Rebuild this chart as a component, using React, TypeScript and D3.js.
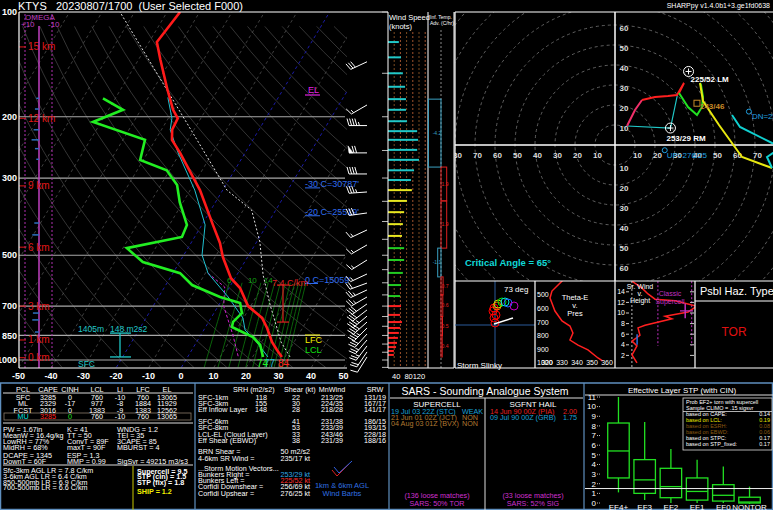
import React from "react";
import * as d3 from "d3";

// ---------------- TEXT ----------------
const TITLE = "KTYS   20230807/1700  (User Selected F000)";
const VERSION = "SHARPpy v1.4.0b1+3.ge1fd0638";

// ---------------- SOUNDING (hPa, degC) ----------------
const tempP = [980, 936, 888, 809, 757, 700, 621, 582, 506, 461, 409, 325, 254, 233, 218, 202, 191, 167, 137, 122, 100];
const tempC = [29.0, 26.2, 23.2, 19.1, 15.7, 9.2, 3.4, -1.2, -7.6, -11.1, -16.6, -27.0, -40.0, -44.9, -46.7, -47.1, -50.1, -55.6, -63.3, -67.6, -66.0];
const dwptP = [980, 905, 859, 804, 777, 733, 686, 659, 609, 563, 523, 477, 443, 409, 352, 314, 285, 266, 233, 207, 191, 177];
const dwptC = [23.2, 20.1, 16.4, 8.1, 7.5, 8.6, 6.2, -1.1, -11.9, -17.8, -31.3, -38.8, -23.9, -24.6, -31.0, -35.0, -40.9, -51.0, -53.2, -72.5, -65.5, -73.8];
const wetbP = [980, 876, 820, 757, 659, 563, 499, 409, 325, 254, 218, 202, 176];
const wetbC = [24.7, 17.6, 12.7, 9.8, 1.4, -9.2, -14.4, -19.0, -28.6, -40.6, -47.3, -48.9, -54.0];
const parcelP = [980, 888, 793, 695, 570, 458, 371, 325, 233, 100];
const parcelC = [31.5, 26.0, 21.3, 15.8, 8.1, 1.0, -7.4, -18.7, -37.2, -84.5];
const downP = [563, 617, 700, 848, 980];
const downC = [-9.2, -1.5, 1.7, 9.9, 15.6];

const presLabels = [100, 200, 300, 500, 700, 850, 1000];
const tempAxis = [-50, -40, -30, -20, -10, 0, 10, 20, 30, 40, 50];
const kmLabels = [0, 1, 3, 6, 9, 12, 15];
const kmPres = [985, 876, 700, 474, 316, 202, 126];
const mixW = [6, 8, 10, 12, 14, 16, 18, 20, 22, 24, 26, 28, 30];
const mixLabels = [6, 10, 14];
const omegaP = [177, 190, 218, 233, 247, 265, 404, 437, 733, 767, 831];
const omegaV = [2, 3, 4, 5.5, 3, 2, 3.5, 5, 4.5, 5, 3];

// wind profile (speed panel)
const windP = [967, 942, 918, 893, 864, 836, 809, 778, 742, 700, 655, 609, 562, 516, 477, 440, 407, 376, 349, 325, 304, 285, 266, 249, 233, 220, 206, 191, 178, 164, 150, 135, 122];
const windSpd = [19, 19, 26, 29, 32, 35, 39, 45, 39, 42, 39, 42, 48, 52, 52, 45, 48, 52, 61, 77, 74, 84, 100, 94, 97, 94, 61, 58, 58, 55, 48, 42, 35];
// wind barbs
const barbP = [139, 185, 212, 254, 292, 329, 378, 423, 467, 516, 566, 601, 629, 659, 690, 718, 748, 778, 809, 842, 876, 911, 948, 980];
const barbDir = [245, 240, 270, 270, 270, 266, 262, 245, 240, 238, 245, 250, 245, 240, 235, 232, 230, 228, 225, 222, 220, 217, 214, 212];
const barbSpd = [30, 15, 45, 70, 40, 35, 30, 15, 15, 15, 15, 20, 25, 25, 30, 30, 35, 40, 35, 30, 25, 25, 20, 10];

// inferred temperature advection (C/hr)
const advTop = [178, 279, 349, 477, 577, 650, 750, 850];
const advBot = [279, 349, 477, 577, 650, 750, 850, 980];
const advVal = [-4.2, 1.9, 1.9, -1.1, 0.7, 0.6, 0.5, 0.4];

// ---------------- HODOGRAPH ----------------
const hodoH = [0, 0.5, 1, 1.5, 2, 2.5, 2.75, 3, 3.5, 4, 4.5, 5, 5.5, 6, 6.5, 7.2, 7.8, 8.2, 9, 9.3, 9.8, 10.3, 10.8, 11.2, 11.6, 12];
const hodoU = [6, 10, 13.5, 20, 26.5, 31, 34.5, 32, 36.5, 41, 43.5, 44, 43, 42.5, 44, 52, 61, 63.5, 78.5, 76, 85, 92, 86, 78.5, 62.5, 58.5];
const hodoV = [9.5, 17.5, 22.5, 24, 24.5, 25, 31, 26, 19, 15, 19, 24, 30, 31, 22, 10, -2.5, -6, -11.5, -6, 0, 2, -1, 1, 9, 15];
const hodoBands = [0, 1, 3, 6, 9, 12];
const hodoColors = ["#f0306a", "#ff2020", "#22e022", "#e8e810", "#10d0d0"];
const hodoRings = d3.range(10, 130, 10);
const eilTop = { u: 31.3, v: 25.5 };
const motionNames = ["RM", "LM", "MW", "DN", "UP"];
const motionDir = [253, 225, 243, 256, 276];
const motionSpd = [29, 52, 46, 69, 25];

// storm slinky
const slU = [-0.5, -1, -0.5, 0, 0.5, 1, 1.5, 3.5, 5, 6.5, 9.5];
const slV = [8.5, 7, 3.5, 1, 5, 9.5, 10.5, 11.5, 11.5, 11, 9.5];
const slC = ["#ff0000", "#ff0000", "#ff0000", "#ff0000", "#ff0000", "#ff6000", "#c0e000", "#00e000", "#00e0e0", "#2060ff", "#c000c0"];

// theta-e
const teP = [390, 471, 522, 618, 691, 728, 779, 831, 868, 904, 963, 985];
const teV = [330.7, 323.3, 322, 325.3, 330, 335.3, 337.3, 335.3, 340.7, 347.3, 354, 357];
// SR wind vs height
const srH = [0.6, 2.1, 3.8, 4.7, 5.8, 7.2, 7.7, 8.9, 9.4, 10.2, 11.3, 12.3, 12.6, 13.6, 14.7, 16];
const srS = [16.9, 13.1, 16.9, 13.1, 19.2, 17.7, 23.1, 43.8, 38.5, 56.2, 63, 46.2, 30.8, 25.4, 20.8, 13.1];

// ---------------- TABLES ----------------
const pclHead = ["PCL", "CAPE", "CINH", "LCL", "LI", "LFC", "EL"];
const pclRows = [
  ["SFC", "3285", "0", "760", "-10", "760", "13065"],
  ["ML", "2329", "-17", "977", "-8", "1884", "11929"],
  ["FCST", "3016", "0", "1383", "-9", "1383", "12562"],
  ["MU", "3285", "0", "760", "-10", "760", "13065"],
];
const paramRows = [
  ["PW = 1.67in", "K = 41", "WNDG = 1.2"],
  ["MeanW = 16.4g/kg", "TT = 50", "TEI = 35"],
  ["LowRH = 77%", "ConvT = 89F", "3CAPE = 85"],
  ["MidRH = 68%", "maxT = 90F", "MBURST = 4"],
  ["DCAPE = 1345", "ESP = 1.3", ""],
  ["DownT = 60F", "MMP = 0.99", "SigSvr = 49215 m3/s3"],
];
const lapseRows = ["Sfc-3km AGL LR = 7.8 C/km", "3-6km AGL LR = 6.4 C/km", "850-500mb LR = 6.9 C/km", "700-500mb LR = 6.6 C/km"];
const indexRows = ["Supercell = 9.5", "STP (cin) = 1.5", "STP (fix) = 1.8", "SHIP = 1.2"];
const kinA = [
  ["SFC-1km", "118", "22", "213/25", "131/19"],
  ["SFC-3km", "155", "30", "224/35", "167/17"],
  ["Eff Inflow Layer", "148", "28", "218/28", "141/17"],
];
const kinB = [
  ["SFC-6km", "", "41", "231/38", "186/15"],
  ["SFC-8km", "", "53", "233/39", "193/15"],
  ["LCL-EL (Cloud Layer)", "", "33", "243/46", "228/18"],
  ["Eff Shear (EBWD)", "", "38", "231/39", "188/16"],
];
const sarsSup = ["19 Jul 03 22Z (STC)", "21 Jun 01 02Z (JCT)", "04 Aug 03 01Z (BVX)"];
const sarsSupCat = ["WEAK", "NON", "NON"];
const sarsSupCol = ["#1aa0d8", "#b07830", "#b07830"];
const sarsHail = ["14 Jun 90 00Z (PIA)", "09 Jul 90 00Z (GRB)"];
const sarsHailSize = ["2.00", "1.75"];
const sarsHailCol = ["#e82020", "#1aa0d8"];
const stpCats = ["EF4+", "EF3", "EF2", "EF1", "EF0", "NONTOR"];
const stpLo = [1.1, 0.3, 0.0, 0.0, 0.0, -0.1];
const stpQ1 = [2.6, 1.0, 0.55, 0.3, 0.2, 0.0];
const stpMed = [5.4, 2.4, 1.7, 1.2, 0.8, 0.1];
const stpQ3 = [8.3, 4.5, 3.6, 2.6, 1.9, 0.6];
const stpHi = [11.0, 8.4, 5.6, 4.5, 3.8, 1.7];
const stpNow = 1.5;
const legLabels = ["based on CAPE:", "based on LCL:", "based on ESRH:", "based on EBWD:", "based on STPC:", "based on STP_fixed:"];
const legVals = ["0.14", "0.19", "0.08", "0.06", "0.17", "0.17"];
const legCols = ["#ffffff", "#e8e800", "#8b5a10", "#8b5a10", "#ffffff", "#ffffff"];

// ---------------- SCALES ----------------
const SK = { left: 19, right: 347, top: 12, bottom: 368 };
const yP = d3.scaleLog().domain([1000, 100]).range([360, 12]);
const xT = d3.scaleLinear().domain([-50, 50]).range([18.5, 343.5]);
const SKEW = 0.6;
const sx = (t: number, p: number) => xT(t) + SKEW * (SK.bottom - yP(p));
const profPath = (P: number[], T: number[]) =>
  d3.line<number>().x((i) => sx(T[i], P[i])).y((i) => yP(P[i]))(d3.range(P.length)) || "";
const tdFromW = (w: number, p: number) => {
  const e = (w * p) / (622 + w);
  const l = Math.log(e / 6.112);
  return (243.5 * l) / (17.67 - l);
};
const xW = d3.scaleLinear().domain([0, 120]).range([388, 425.2]);
const xAdv = d3.scaleLinear().domain([0, 1]).range([441, 444]);
const hu = d3.scaleLinear().domain([0, 10]).range([615, 635]);
const hv = d3.scaleLinear().domain([0, 10]).range([145, 125]);
const slX = d3.scaleLinear().domain([0, 10]).range([495, 515]);
const slY = d3.scaleLinear().domain([0, 10]).range([325, 305]);
const teX = d3.scaleLinear().domain([320, 360]).range([547, 607]);
const teY = d3.scaleLinear().domain([500, 1000]).range([295, 363]);
const srX = d3.scaleLinear().domain([0, 60]).range([615, 693]);
const srY = d3.scaleLinear().domain([0, 16]).range([366, 281.2]);
const stpX = d3.scaleBand().domain(stpCats).range([603, 765]).padding(0.18);
const stpY = d3.scaleLinear().domain([0, 11]).range([503, 397]);

const bandColor = (p: number) => (p >= kmPres[2] ? "#ff2020" : p >= kmPres[3] ? "#22cc22" : p >= kmPres[4] ? "#e8e820" : "#20c8c8");
const uv = (dir: number, spd: number) => {
  const r = (dir * Math.PI) / 180;
  return { u: -spd * Math.sin(r), v: -spd * Math.cos(r) };
};

function barb(x0: number, y0: number, dir: number, spd: number, key: number) {
  const r = (dir * Math.PI) / 180;
  const ax = Math.sin(r), ay = -Math.cos(r);
  const px = -ay, py = ax;
  const L = 18;
  const tx = x0 + ax * L, ty = y0 + ay * L;
  let s = Math.round(spd / 5) * 5;
  let pos = 0;
  const parts: string[] = [`M${x0},${y0}L${tx},${ty}`];
  const flags: string[] = [];
  while (s >= 50) {
    const bx = tx - ax * pos, by = ty - ay * pos;
    flags.push(`M${bx},${by}L${bx + px * 7 + ax * 1},${by + py * 7 + ay * 1}L${bx - ax * 4},${by - ay * 4}Z`);
    pos += 5;
    s -= 50;
  }
  while (s >= 10) {
    const bx = tx - ax * pos, by = ty - ay * pos;
    parts.push(`M${bx},${by}L${bx + px * 7 + ax * 2},${by + py * 7 + ay * 2}`);
    pos += 2.6;
    s -= 10;
  }
  if (s >= 5) {
    if (pos === 0) pos = 2.6;
    const bx = tx - ax * pos, by = ty - ay * pos;
    parts.push(`M${bx},${by}L${bx + px * 3.5 + ax * 1},${by + py * 3.5 + ay * 1}`);
  }
  return (
    <g key={key}>
      <path d={parts.join("")} stroke="#fff" strokeWidth={1} fill="none" />
      {flags.length > 0 && <path d={flags.join("")} fill="#fff" stroke="#fff" strokeWidth={0.6} />}
    </g>
  );
}

const F = "'Liberation Sans', Arial, sans-serif";

const Txt = (props: any) => {
  const { x, y, c = "#fff", s = 7.2, a = "start", w = "normal", children, ...rest } = props;
  return (
    <text x={x} y={y} fill={c} fontSize={s} textAnchor={a} fontWeight={w} dy="0.35em" style={{ whiteSpace: "pre" }} {...rest}>
      {children}
    </text>
  );
};

export default function App() {
  // skew-T background lines
  const isoT = d3.range(-160, 60, 10);
  const dryTh = d3.range(-40, 240, 10);
  const pLev = d3.range(1050, 99, -20);
  const dryPath = (th: number) =>
    d3.line<number>().x((p) => sx((th + 273.15) * Math.pow(p / 1000, 0.2857) - 273.15, p)).y((p) => yP(p))(pLev) || "";
  const mixLev = d3.range(1050, 599, -25);
  const mixPath = (w: number) => d3.line<number>().x((p) => sx(tdFromW(w, p), p)).y((p) => yP(p))(mixLev) || "";

  // hodograph segments
  const hodoSegs = hodoColors.map((col, b) => {
    const lo = hodoBands[b], hi = hodoBands[b + 1];
    const idx = d3.range(hodoH.length).filter((i) => hodoH[i] >= lo && hodoH[i] <= hi);
    const d = d3.line<number>().x((i) => hu(hodoU[i])).y((i) => hv(hodoV[i]))(idx) || "";
    return <path key={b} d={d} stroke={col} strokeWidth={2} fill="none" />;
  });
  const mo = motionNames.map((n, i) => ({ n, ...uv(motionDir[i], motionSpd[i]), dir: motionDir[i], spd: motionSpd[i] }));
  const rm = mo[0], lm = mo[1], mw = mo[2], dn = mo[3], up = mo[4];

  const wallColor = "#5f8fbf";

  return (
    <svg width={773} height={510} style={{ position: "fixed", left: 0, top: 0, background: "#000" }} fontFamily={F}>
      <defs>
        <clipPath id="skc"><rect x={SK.left} y={SK.top} width={SK.right - SK.left} height={SK.bottom - SK.top} /></clipPath>
        <clipPath id="hodc"><rect x={455} y={12} width={318} height={269} /></clipPath>
        <clipPath id="tec"><rect x={535} y={281} width={80} height={87} /></clipPath>
        <clipPath id="src"><rect x={615} y={281} width={80} height={87} /></clipPath>
      </defs>
      <rect x={0} y={0} width={773} height={510} fill="#000" />

      {/* ============ SKEW-T ============ */}
      <g clipPath="url(#skc)">
        {dryTh.map((th) => (
          <path key={"d" + th} d={dryPath(th)} stroke="#4a4a4a" strokeWidth={0.7} fill="none" />
        ))}
        {isoT.map((t) => (
          <path key={"i" + t} d={`M${sx(t, 1050)},${yP(1050)}L${sx(t, 100)},${yP(100)}`}
            stroke={t === 0 || t === -20 ? "#1c1ca8" : "#5a5a5a"} strokeWidth={t === 0 || t === -20 ? 1 : 0.7}
            strokeDasharray="3,3" fill="none" />
        ))}
        {mixW.map((w) => (
          <path key={"m" + w} d={mixPath(w)} stroke="#0c7a0c" strokeWidth={0.8} fill="none" />
        ))}
        {presLabels.filter((p) => p !== 100).map((p) => (
          <line key={"pl" + p} x1={SK.left} x2={345} y1={yP(p)} y2={yP(p)} stroke="#a8a8a8" strokeWidth={1.2} />
        ))}
      </g>
      {mixLabels.map((w) => (
        <Txt key={"ml" + w} x={sx(tdFromW(w, 600), 600)} y={yP(600) - 3} c="#11a011" s={8} a="middle">{w}</Txt>
      ))}

      {/* omega */}
      <line x1={25} x2={25} y1={14} y2={SK.bottom} stroke="#b030b0" strokeDasharray="2,2" />
      <line x1={52} x2={52} y1={14} y2={SK.bottom} stroke="#b030b0" strokeDasharray="2,2" />
      <line x1={39} x2={39} y1={26} y2={SK.bottom} stroke="#c040c0" strokeWidth={1.5} />
      {omegaP.map((p, i) => (
        <line key={"o" + i} x1={39} x2={39 - omegaV[i] * 1.35} y1={yP(p)} y2={yP(p)} stroke="#3070c0" strokeWidth={1.5} />
      ))}
      <Txt x={25} y={17} c="#c040c0" s={8}>OMEGA</Txt>
      <Txt x={21} y={24} c="#c040c0" s={8}>+10</Txt>
      <Txt x={48} y={24} c="#c040c0" s={8}>-10</Txt>

      {/* km labels */}
      {kmLabels.map((k, i) => (
        <g key={"km" + k}>
          <line x1={SK.left} x2={26} y1={yP(kmPres[i])} y2={yP(kmPres[i])} stroke="#e01818" strokeWidth={1} />
          <Txt x={28} y={yP(kmPres[i])} c="#e01818" s={10}>{k + " km"}</Txt>
        </g>
      ))}

      {/* profiles */}
      <g clipPath="url(#skc)" fill="none">
        <path d={profPath(downP, downC)} stroke="#d020d0" strokeWidth={1} strokeDasharray="3,2" />
        <path d={profPath(parcelP, parcelC)} stroke="#e0e0e0" strokeWidth={1} strokeDasharray="2,2" />
        <path d={profPath(wetbP, wetbC)} stroke="#20c0d0" strokeWidth={1} />
        <path d={profPath(dwptP, dwptC)} stroke="#22ee22" strokeWidth={2.6} />
        <path d={profPath(tempP, tempC)} stroke="#ff1a1a" strokeWidth={2.6} />
      </g>

      {/* level annotations */}
      <Txt x={305} y={yP(316) - 2} c="#2f6cf0" s={9}>-30 C=30787'</Txt>
      <Txt x={305} y={yP(375)} c="#2f6cf0" s={9}>-20 C=25519'</Txt>
      <Txt x={305} y={yP(587)} c="#2f6cf0" s={9}>0 C=15059'</Txt>
      <line x1={305} x2={320} y1={yP(316) + 2} y2={yP(316) + 2} stroke="#2f6cf0" />
      <line x1={305} x2={320} y1={yP(375) + 4} y2={yP(375) + 4} stroke="#2f6cf0" />
      <line x1={305} x2={318} y1={yP(587) + 4} y2={yP(587) + 4} stroke="#2f6cf0" />
      <Txt x={308} y={90} c="#e020e0" s={9}>EL</Txt>
      <line x1={305} x2={320} y1={95} y2={95} stroke="#e020e0" strokeWidth={1.2} />
      <line x1={305} x2={320} y1={335} y2={335} stroke="#f0f000" strokeWidth={1} />
      <Txt x={305} y={340} c="#f0f000" s={9}>LFC</Txt>
      <Txt x={305} y={350} c="#10e010" s={9}>LCL</Txt>
      {/* lapse rate bracket */}
      <g stroke="#e02020" strokeWidth={1.2}>
        <line x1={283} x2={283} y1={yP(609)} y2={yP(778)} />
        <line x1={277} x2={289} y1={yP(609)} y2={yP(609)} />
        <line x1={277} x2={289} y1={yP(778)} y2={yP(778)} />
      </g>
      <Txt x={272} y={283} c="#e02020" s={9}>7.4 C/km</Txt>
      {/* effective inflow layer */}
      <g stroke="#20c8c8" strokeWidth={1.3}>
        <line x1={120} x2={120} y1={yP(837)} y2={yP(980)} />
        <line x1={110} x2={131} y1={yP(837)} y2={yP(837)} />
        <line x1={110} x2={131} y1={yP(980)} y2={yP(980)} />
      </g>
      <Txt x={78} y={329} c="#20c8c8" s={8.5}>1405m</Txt>
      <Txt x={110} y={329} c="#20c8c8" s={8.5}>148 m2s2</Txt>
      <Txt x={78} y={364} c="#20c8c8" s={8.5}>SFC</Txt>
      {/* surface values */}
      <Txt x={264} y={363} c="#20c0d0" s={10}>77</Txt>
      <Txt x={257} y={363} c="#22ee22" s={10}>74</Txt>
      <Txt x={278} y={363} c="#ff2020" s={10}>84</Txt>

      {/* wind barbs */}
      {barbP.map((p, i) => barb(367, yP(p), barbDir[i], barbSpd[i], i))}

      {/* frame */}
      <line x1={SK.left} x2={SK.left} y1={SK.top} y2={SK.bottom} stroke="#fff" strokeWidth={1.2} />
      <line x1={SK.left} x2={388} y1={SK.top} y2={SK.top} stroke="#fff" strokeWidth={1.2} />
      <line x1={SK.left} x2={SK.right} y1={SK.bottom} y2={SK.bottom} stroke="#fff" strokeWidth={1.2} />
      {presLabels.map((p) => (
        <Txt key={"pt" + p} x={17} y={yP(p)} a="end" s={9} w="bold">{p}</Txt>
      ))}
      {tempAxis.map((t) => (
        <Txt key={"ta" + t} x={xT(t)} y={376} a="middle" s={9} w="bold">{t}</Txt>
      ))}
      <Txt x={18} y={6} s={11}>{TITLE}</Txt>
      <Txt x={770} y={6} s={7} a="end">{VERSION}</Txt>
      {d3.range(100, 1051, 50).map((p) => (
        <line key={"rt" + p} x1={382} x2={388} y1={yP(p)} y2={yP(p)} stroke="#bbb" />
      ))}

      {/* ============ WIND SPEED PANEL ============ */}
      {d3.range(20, 121, 20).map((k) => (
        <line key={"wg" + k} x1={xW(k)} x2={xW(k)} y1={32} y2={SK.bottom} stroke={k % 40 === 0 ? "#a0522d" : "#7a4a20"} strokeDasharray="2,2" />
      ))}
      {windP.map((p, i) => (
        <line key={"wb" + i} x1={xW(0)} x2={xW(windSpd[i])} y1={yP(p)} y2={yP(p)} stroke={bandColor(p)} strokeWidth={2} />
      ))}
      <line x1={388} x2={388} y1={12} y2={SK.bottom} stroke="#fff" />
      <line x1={428} x2={428} y1={12} y2={SK.bottom} stroke="#fff" />
      <line x1={388} x2={428} y1={SK.bottom} y2={SK.bottom} stroke="#fff" />
      <Txt x={389} y={17} s={7.5}>Wind Speed</Txt>
      <Txt x={389} y={26} s={7.5}>(knots)</Txt>
      {[40, 80, 120].map((k) => (
        <Txt key={"wl" + k} x={xW(k)} y={376} a="end" s={7.5}>{k}</Txt>
      ))}

      {/* ============ TEMP ADVECTION ============ */}
      <line x1={441} x2={441} y1={30} y2={SK.bottom} stroke="#888" strokeDasharray="2,2" />
      {advVal.map((v, i) => {
        const x0 = xAdv(0), x1 = xAdv(v);
        const col = v < 0 ? "#3aa0c0" : "#e02020";
        return (
          <g key={"adv" + i}>
            <rect x={Math.min(x0, x1)} y={yP(advTop[i])} width={Math.abs(x1 - x0)} height={yP(advBot[i]) - yP(advTop[i])} fill="none" stroke={col} strokeWidth={1} />
            <Txt x={v < 0 ? 437 : 445} y={(yP(advTop[i]) + yP(advBot[i])) / 2} c={col} s={5} a="middle">{v.toFixed(1)}</Txt>
          </g>
        );
      })}
      <line x1={454} x2={454} y1={12} y2={SK.bottom} stroke="#fff" />
      <line x1={428} x2={454} y1={SK.bottom} y2={SK.bottom} stroke="#fff" />
      <Txt x={430} y={17} s={5}>Inf. Temp.</Txt>
      <Txt x={430} y={23} s={5}>Adv. (C/hr)</Txt>

      {/* ============ HODOGRAPH ============ */}
      <g clipPath="url(#hodc)">
        {hodoRings.map((r) => (
          <circle key={"r" + r} cx={hu(0)} cy={hv(0)} r={hu(r) - hu(0)} fill="none" stroke="#777" strokeWidth={0.8} strokeDasharray="3,3" />
        ))}
        <line x1={hu(0)} x2={hu(0)} y1={12} y2={281} stroke="#fff" strokeWidth={1.5} />
        <line x1={455} x2={773} y1={hv(0)} y2={hv(0)} stroke="#fff" strokeWidth={1.5} />
        {hodoRings.filter((r) => r <= 60).map((r) => (
          <g key={"hl" + r}>
            <Txt x={624} y={hv(r) + 3} a="middle" s={8} w="bold" c="#ddd">{r}</Txt>
            <Txt x={624} y={hv(-r) + 3} a="middle" s={8} w="bold" c="#ddd">{r}</Txt>
          </g>
        ))}
        {hodoRings.filter((r) => r <= 80).map((r) => (
          <g key={"hh" + r}>
            <Txt x={hu(r) + 2.5} y={155} a="middle" s={8} w="bold" c="#ddd">{r}</Txt>
            <Txt x={hu(-r) + 2.5} y={155} a="middle" s={8} w="bold" c="#ddd">{r}</Txt>
          </g>
        ))}
        {/* effective inflow lines */}
        <path d={`M${hu(hodoU[0])},${hv(hodoV[0])}L${hu(rm.u)},${hv(rm.v)}L${hu(eilTop.u)},${hv(eilTop.v)}`} stroke="#20c8c8" strokeWidth={1.2} fill="none" />
        {hodoSegs}
        {/* markers */}
        {[rm, lm].map((m, i) => (
          <g key={"sm" + i} stroke="#fff" fill="none">
            <circle cx={hu(m.u)} cy={hv(m.v)} r={5} />
            <line x1={hu(m.u) - 3} x2={hu(m.u) + 3} y1={hv(m.v)} y2={hv(m.v)} />
            <line x1={hu(m.u)} x2={hu(m.u)} y1={hv(m.v) - 3} y2={hv(m.v) + 3} />
          </g>
        ))}
        <Txt x={hu(rm.u) - 4} y={hv(rm.v) + 10} s={8} w="bold">{`${rm.dir}/${rm.spd} RM`}</Txt>
        <Txt x={hu(lm.u) + 2} y={hv(lm.v) + 8} s={8} w="bold">{`${lm.dir}/${lm.spd} LM`}</Txt>
        <rect x={hu(mw.u) - 3} y={hv(mw.v) - 3} width={6} height={6} fill="none" stroke="#c88a28" />
        <Txt x={hu(mw.u) + 3} y={hv(mw.v) + 3} s={8} w="bold" c="#c88a28">{`${mw.dir}/${mw.spd}`}</Txt>
        <circle cx={hu(dn.u)} cy={hv(dn.v)} r={2.5} fill="none" stroke="#20a0e0" />
        <Txt x={hu(dn.u) + 3} y={hv(dn.v) + 5} s={8} c="#20a0e0">{`DN=${dn.dir}/${dn.spd}`}</Txt>
        <circle cx={hu(up.u)} cy={hv(up.v)} r={2.5} fill="none" stroke="#20a0e0" />
        <Txt x={hu(up.u) + 2} y={hv(up.v) + 5} s={8} c="#20a0e0">{`UP=${up.dir}/${up.spd}`}</Txt>
      </g>
      <Txt x={465} y={263} c="#10d8d8" s={9.5} w="bold">Critical Angle = 65°</Txt>
      <line x1={455} x2={773} y1={12} y2={12} stroke="#fff" strokeWidth={1.2} />
      <line x1={455} x2={455} y1={12} y2={368} stroke="#fff" strokeWidth={1.2} />

      {/* ============ SMALL PANELS ============ */}
      {/* storm slinky */}
      <line x1={slX(0)} x2={slX(0)} y1={281} y2={368} stroke="#2a5a9a" />
      <line x1={455} x2={535} y1={slY(0)} y2={slY(0)} stroke="#2a5a9a" />
      {slU.map((u, i) => (
        <circle key={"sl" + i} cx={slX(u)} cy={slY(slV[i])} r={4} fill="none" stroke={slC[i]} strokeWidth={1} />
      ))}
      <line x1={slX(-0.5)} y1={slY(0.5)} x2={slX(9)} y2={slY(3.5)} stroke="#fff" strokeWidth={1.5} />
      <Txt x={504} y={289} s={8}>73 deg</Txt>
      <Txt x={457} y={365} s={8}>Storm Slinky</Txt>

      {/* theta-e */}
      <g clipPath="url(#tec)">
        <path d={d3.line<number>().x((i) => teX(teV[i])).y((i) => teY(teP[i]))(d3.range(teP.length)) || ""} stroke="#ff2020" strokeWidth={1.5} fill="none" />
      </g>
      {[500, 600, 700, 800, 900, 1000].map((p) => (
        <Txt key={"tep" + p} x={537} y={teY(p)} s={7}>{p}</Txt>
      ))}
      {[320, 330, 340, 350, 360].map((t) => (
        <Txt key={"tet" + t} x={teX(t)} y={363} s={7} a="middle">{t}</Txt>
      ))}
      <Txt x={575} y={297} s={7.5} a="middle">Theta-E</Txt>
      <Txt x={575} y={305} s={7.5} a="middle">v.</Txt>
      <Txt x={575} y={313} s={7.5} a="middle">Pres</Txt>

      {/* SR wind vs height */}
      <g clipPath="url(#src)">
        <line x1={srX(13)} x2={srX(13)} y1={281} y2={368} stroke="#bbb" strokeDasharray="2,2" />
        <line x1={srX(33)} x2={srX(33)} y1={srY(16)} y2={srY(3.8)} stroke="#c030c0" strokeDasharray="2,2" />
        <line x1={srX(59)} x2={srX(59)} y1={srY(16)} y2={srY(3.8)} stroke="#c030c0" strokeDasharray="2,2" />
        <path d={d3.line<number>().x((i) => srX(srS[i])).y((i) => srY(srH[i]))(d3.range(srH.length)) || ""} stroke="#ff2020" strokeWidth={1.5} fill="none" />
        <line x1={srX(17)} x2={srX(17)} y1={srY(4)} y2={srY(6)} stroke="#3070e0" strokeWidth={1.5} />
        <line x1={srX(54)} x2={srX(54)} y1={srY(9)} y2={srY(11.8)} stroke="#c030c0" strokeWidth={1.5} />
        <line x1={srX(50)} x2={srX(60)} y1={srY(10.4)} y2={srY(10.4)} stroke="#c030c0" strokeWidth={1.2} />
      </g>
      {d3.range(2, 15, 2).map((h) => (
        <g key={"srh" + h}>
          <Txt x={625} y={srY(h)} s={7} a="end">{h}</Txt>
          <line x1={626} x2={629} y1={srY(h)} y2={srY(h)} stroke="#ccc" />
          <line x1={690} x2={694} y1={srY(h)} y2={srY(h)} stroke="#ccc" />
        </g>
      ))}
      <Txt x={640} y={287} s={7} a="middle">Sr. Wind</Txt>
      <Txt x={640} y={294} s={7} a="middle">v.</Txt>
      <Txt x={640} y={301} s={7} a="middle">Height</Txt>
      <Txt x={670} y={294} s={7} a="middle" c="#c030c0">Classic</Txt>
      <Txt x={670} y={302} s={7} a="middle" c="#c030c0">Supercell</Txt>

      {/* hazard */}
      <Txt x={700} y={291} s={11}>Psbl Haz. Type</Txt>
      <line x1={695} x2={773} y1={301} y2={301} stroke="#fff" />
      <Txt x={734} y={332} s={12} a="middle" c="#e01010">TOR</Txt>

      {/* panel borders */}
      <g stroke="#fff" strokeWidth={1.2}>
        <line x1={455} x2={773} y1={281} y2={281} />
        <line x1={455} x2={773} y1={368} y2={368} />
        <line x1={535} x2={535} y1={281} y2={368} />
        <line x1={615} x2={615} y1={281} y2={368} />
        <line x1={695} x2={695} y1={281} y2={368} />
      </g>

      {/* ============ BOTTOM TABLES ============ */}
      <rect x={0.5} y={383} width={772} height={126.5} fill="none" stroke={wallColor} strokeWidth={1.5} />
      <line x1={195} x2={195} y1={383} y2={510} stroke={wallColor} strokeWidth={1.2} />
      <line x1={389} x2={389} y1={383} y2={510} stroke={wallColor} strokeWidth={1.2} />
      <line x1={584} x2={584} y1={383} y2={510} stroke={wallColor} strokeWidth={1.2} />

      {/* table 1 */}
      {pclHead.map((h, j) => (
        <Txt key={"ph" + j} x={[23, 48, 70, 97, 120, 143, 167][j]} y={389} a="middle">{h}</Txt>
      ))}
      <line x1={3} x2={193} y1={393} y2={393} stroke="#ddd" />
      <rect x={4} y={413} width={187} height={7} fill="none" stroke="#8a7a6a" strokeWidth={0.8} />
      {pclRows.map((row, i) =>
        row.map((c, j) => (
          <Txt key={"pr" + i + j} x={[23, 48, 70, 97, 120, 143, 167][j]} y={[397, 403, 410, 416.5][i]} a="middle"
            c={i === 3 ? (j === 0 ? "#00e0e0" : j === 1 ? "#ff2020" : j === 2 ? "#20e020" : "#fff") : "#fff"}>{c}</Txt>
        ))
      )}
      <line x1={3} x2={193} y1={423} y2={423} stroke="#ddd" />
      {paramRows.map((row, i) =>
        row.map((c, j) => (
          <Txt key={"pp" + i + j} x={[3, 67, 117][j]} y={[429, 435, 441, 447.5, 455, 461][i]}>{c}</Txt>
        ))
      )}
      <line x1={3} x2={193} y1={465} y2={465} stroke="#ddd" />
      {lapseRows.map((c, i) => (
        <Txt key={"lr" + i} x={3} y={[470, 476, 482, 487.5][i]}>{c}</Txt>
      ))}
      <line x1={133} x2={133} y1={466} y2={510} stroke="#c8c800" />
      {indexRows.map((c, i) => (
        <Txt key={"ix" + i} x={137} y={[471, 476.7, 482.3, 491][i]} w="bold" c={i === 3 ? "#f0f000" : "#fff"}>{c}</Txt>
      ))}

      {/* table 2 */}
      <Txt x={233} y={389}>SRH (m2/s2)</Txt>
      <Txt x={284} y={389}>Shear (kt)</Txt>
      <Txt x={332} y={389} a="middle">MnWind</Txt>
      <Txt x={375} y={389} a="middle">SRW</Txt>
      {[...kinA, ...kinB].map((row, i) => {
        const y = [397, 403, 409, 421, 427, 434, 440][i];
        return (
          <g key={"ka" + i}>
            <Txt x={198} y={y}>{row[0]}</Txt>
            <Txt x={267} y={y} a="end">{row[1]}</Txt>
            <Txt x={300} y={y} a="end">{row[2]}</Txt>
            <Txt x={332} y={y} a="middle">{row[3]}</Txt>
            <Txt x={375} y={y} a="middle">{row[4]}</Txt>
          </g>
        );
      })}
      <Txt x={198} y={451}>BRN Shear =</Txt>
      <Txt x={310} y={451} a="end">50 m2/s2</Txt>
      <Txt x={198} y={458}>4-6km SR Wind =</Txt>
      <Txt x={310} y={458} a="end">235/17 kt</Txt>
      <Txt x={198} y={468}>...Storm Motion Vectors...</Txt>
      <Txt x={198} y={474}>Bunkers Right =</Txt>
      <Txt x={310} y={474} a="end" c="#30a8e8">{`${rm.dir}/${rm.spd} kt`}</Txt>
      <Txt x={198} y={480}>Bunkers Left =</Txt>
      <Txt x={310} y={480} a="end" c="#ff3030">{`${lm.dir}/${lm.spd} kt`}</Txt>
      <Txt x={198} y={486.5}>Corfidi Downshear =</Txt>
      <Txt x={310} y={486.5} a="end">{`${dn.dir}/${dn.spd} kt`}</Txt>
      <Txt x={198} y={493}>Corfidi Upshear =</Txt>
      <Txt x={310} y={493} a="end">{`${up.dir}/${up.spd} kt`}</Txt>
      <path d="M332,470L337,476L349,464" stroke="#e02020" fill="none" strokeWidth={1} />
      <path d="M334,467L339,473L352,461" stroke="#3060e0" fill="none" strokeWidth={1} />
      <Txt x={342} y={485} a="middle" c="#3070e0" s={7.5}>1km & 6km AGL</Txt>
      <Txt x={342} y={493} a="middle" c="#3070e0" s={7.5}>Wind Barbs</Txt>

      {/* table 3 SARS */}
      <Txt x={485} y={391} a="middle" s={10.5}>SARS - Sounding Analogue System</Txt>
      <line x1={390} x2={583} y1={398} y2={398} stroke="#ddd" />
      <line x1={485} x2={485} y1={398} y2={510} stroke="#ddd" />
      <Txt x={437} y={404} a="middle" s={8}>SUPERCELL</Txt>
      <Txt x={533} y={404} a="middle" s={8}>SGFNT HAIL</Txt>
      {sarsSup.map((s, i) => (
        <g key={"ss" + i}>
          <Txt x={391} y={411 + i * 6} c={sarsSupCol[i]}>{s}</Txt>
          <Txt x={462} y={411 + i * 6} c={sarsSupCol[i]}>{sarsSupCat[i]}</Txt>
        </g>
      ))}
      {sarsHail.map((s, i) => (
        <g key={"sh" + i}>
          <Txt x={490} y={411 + i * 6} c={sarsHailCol[i]}>{s}</Txt>
          <Txt x={563} y={411 + i * 6} c={sarsHailCol[i]}>{sarsHailSize[i]}</Txt>
        </g>
      ))}
      <Txt x={437} y={495} a="middle" c="#d030d0">(136 loose matches)</Txt>
      <Txt x={437} y={503} a="middle" c="#d030d0">SARS: 50% TOR</Txt>
      <Txt x={533} y={495} a="middle" c="#d030d0">(33 loose matches)</Txt>
      <Txt x={533} y={503} a="middle" c="#d030d0">SARS: 52% SIG</Txt>

      {/* table 4 STP */}
      <Txt x={682} y={390} a="middle" s={8}>Effective Layer STP (with CIN)</Txt>
      <line x1={585} x2={773} y1={395} y2={395} stroke="#ddd" />
      {d3.range(0, 12).map((v) => (
        <g key={"sy" + v}>
          <Txt x={596} y={stpY(v)} a="end" s={8}>{v}</Txt>
          <line x1={597} x2={601} y1={stpY(v)} y2={stpY(v)} stroke="#bbb" strokeDasharray="1,1" />
        </g>
      ))}
      {stpCats.map((c, i) => {
        const x = stpX(c) || 0, w = stpX.bandwidth(), cx = x + w / 2;
        return (
          <g key={"bx" + i} stroke="#22e022" strokeWidth={1.3} fill="none">
            <line x1={cx} x2={cx} y1={stpY(stpHi[i])} y2={stpY(stpQ3[i])} />
            <line x1={cx} x2={cx} y1={stpY(stpQ1[i])} y2={stpY(stpLo[i])} />
            <rect x={x} y={stpY(stpQ3[i])} width={w} height={stpY(stpQ1[i]) - stpY(stpQ3[i])} />
            <line x1={x} x2={x + w} y1={stpY(stpMed[i])} y2={stpY(stpMed[i])} />
          </g>
        );
      })}
      <line x1={585} x2={773} y1={stpY(stpNow)} y2={stpY(stpNow)} stroke="#eee" strokeWidth={1} />
      {stpCats.map((c) => (
        <Txt key={"sl" + c} x={(stpX(c) || 0) + stpX.bandwidth() / 2} y={507} a="middle" s={8}>{c}</Txt>
      ))}
      <rect x={683} y={398} width={89} height={52} fill="#000" stroke="#ddd" strokeWidth={0.8} />
      <Txt x={686} y={402} s={5.5}>Prob EF2+ torn with supercell</Txt>
      <Txt x={686} y={408} s={5.5}>Sample CLIMO = .15 sigsvr</Txt>
      <line x1={683} x2={772} y1={411.5} y2={411.5} stroke="#ddd" strokeWidth={0.8} />
      {legLabels.map((l, i) => (
        <g key={"lg" + i}>
          <Txt x={686} y={414.5 + i * 6} s={5.5} c={legCols[i]}>{l}</Txt>
          <Txt x={770} y={414.5 + i * 6} s={5.5} a="end" c={legCols[i]}>{legVals[i]}</Txt>
        </g>
      ))}
    </svg>
  );
}
